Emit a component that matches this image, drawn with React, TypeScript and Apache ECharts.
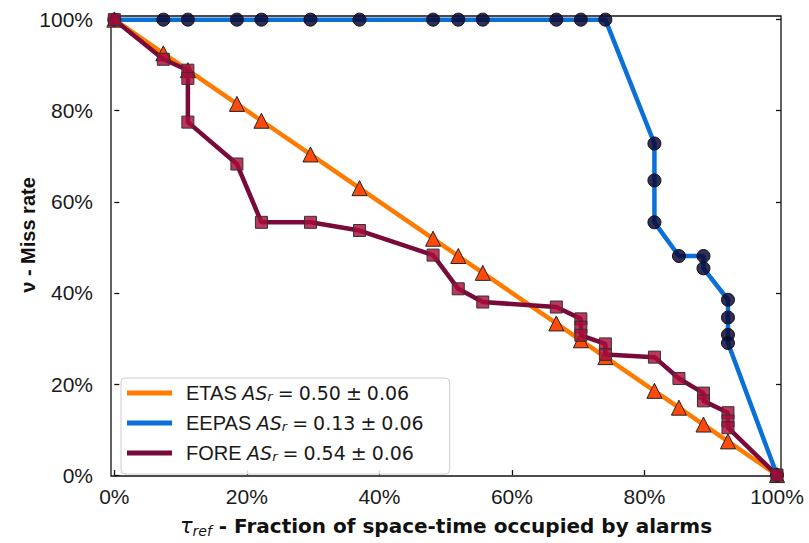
import React, { useEffect, useRef } from "react";
import * as echarts from "echarts";

// x positions: fraction of space-time occupied by alarms
const etasX = [0, 0.074, 0.111, 0.185, 0.222, 0.296, 0.370, 0.481, 0.519, 0.556, 0.667, 0.704, 0.741, 0.815, 0.852, 0.889, 0.926, 1.0];
const etasY = [1.0, 0.926, 0.889, 0.815, 0.778, 0.704, 0.630, 0.519, 0.481, 0.444, 0.333, 0.296, 0.259, 0.185, 0.148, 0.111, 0.074, 0.0];

const eepasX = [0, 0.074, 0.111, 0.185, 0.222, 0.296, 0.370, 0.481, 0.519, 0.556, 0.667, 0.704, 0.741, 0.815, 0.815, 0.815, 0.852, 0.889, 0.889, 0.926, 0.926, 0.926, 0.926, 1.0];
const eepasY = [1.0, 1.0, 1.0, 1.0, 1.0, 1.0, 1.0, 1.0, 1.0, 1.0, 1.0, 1.0, 1.0, 0.728, 0.647, 0.555, 0.481, 0.481, 0.454, 0.385, 0.346, 0.308, 0.290, 0.0];

const foreX = [0, 0.074, 0.111, 0.111, 0.111, 0.185, 0.222, 0.296, 0.370, 0.481, 0.519, 0.556, 0.667, 0.704, 0.704, 0.704, 0.741, 0.741, 0.815, 0.852, 0.889, 0.889, 0.926, 0.926, 0.926, 1.0];
const foreY = [1.0, 0.913, 0.889, 0.871, 0.775, 0.683, 0.555, 0.555, 0.537, 0.483, 0.409, 0.380, 0.369, 0.343, 0.325, 0.307, 0.288, 0.265, 0.259, 0.212, 0.180, 0.163, 0.137, 0.119, 0.104, 0.0];

const tickValues = [0, 0.2, 0.4, 0.6, 0.8, 1.0];

const seriesNames = ["ETAS", "EEPAS", "FORE"];
const seriesScores = ["0.50", "0.13", "0.54"];
const seriesErrors = ["0.06", "0.06", "0.06"];

const lineColors = ["#ff7a00", "#0a6fd6", "#7a0a3a"];

const FONT = "Liberation Sans, Arial, sans-serif";
const DJ = "DejaVu Sans, sans-serif";

const pairs = (xs: number[], ys: number[]) => xs.map((x, i) => [x, ys[i]]);

export default function App() {
  const ref = useRef<HTMLDivElement>(null);
  useEffect(() => {
    if (!ref.current) return;
    const chart = echarts.init(ref.current, null, { renderer: "svg" });
    const pct = (v: number) => `${Math.round(v * 100)}%`;
    const txt = "#1a1a1a";
    const option: any = {
      animation: false,
      backgroundColor: "#ffffff",
      grid: {
        left: 111,
        right: 28,
        top: 16,
        bottom: 61,
        show: true,
        borderColor: "#111",
        borderWidth: 1.3,
        backgroundColor: "transparent",
      },
      xAxis: {
        type: "value",
        min: -0.005,
        max: 1.006,
        axisLine: { show: false },
        splitLine: { show: false },
        axisTick: { show: true, inside: true, length: 5, lineStyle: { color: "#111", width: 1.3 }, customValues: tickValues },
        axisLabel: {
          customValues: tickValues,
          formatter: pct,
          fontFamily: FONT,
          fontSize: 21,
          color: txt,
          margin: 10,
        },
        name: "{t|τ}{s|ref}{b| - Fraction of space-time occupied by alarms}",
        nameLocation: "middle",
        nameGap: 38,
        nameTextStyle: {
          rich: {
            t: { fontFamily: DJ, fontStyle: "italic", fontSize: 21, color: "#111", lineHeight: 24 },
            s: { fontFamily: DJ, fontStyle: "italic", fontSize: 14, color: "#111", lineHeight: 12, verticalAlign: "bottom" },
            b: { fontFamily: DJ, fontWeight: "bold", fontSize: 20, color: "#111", lineHeight: 24 },
          },
        },
      },
      yAxis: [
        {
          type: "value",
          min: -0.002,
          max: 1.008,
          axisLine: { show: false },
          splitLine: { show: false },
          axisTick: { show: true, inside: true, length: 5, lineStyle: { color: "#111", width: 1.3 }, customValues: tickValues },
          axisLabel: {
            customValues: tickValues,
            formatter: pct,
            fontFamily: FONT,
            fontSize: 21,
            color: txt,
            margin: 18,
          },
        },
        {
          type: "value",
          position: "right",
          min: -0.002,
          max: 1.008,
          axisLine: { show: false },
          splitLine: { show: false },
          axisTick: { show: true, inside: true, length: 5, lineStyle: { color: "#111", width: 1.3 }, customValues: tickValues },
          axisLabel: { show: false },
        },
      ],
      legend: {
        orient: "vertical",
        left: 121,
        top: 378,
        padding: [5, 26, 11, 6],
        itemGap: 10,
        itemWidth: 45,
        itemHeight: 5,
        icon: "rect",
        backgroundColor: "rgba(255,255,255,0.85)",
        borderColor: "#cccccc",
        borderWidth: 1,
        borderRadius: 4,
        data: seriesNames.map((n, i) => ({
          name: n,
          itemStyle: { color: lineColors[i], borderWidth: 0 },
        })),
        formatter: (name: string) => {
          const i = seriesNames.indexOf(name);
          return `{a|${name} }{i|AS}{s|r}{o|=}{b|${seriesScores[i]}}{o|±}{b|${seriesErrors[i]}}`;
        },
        textStyle: {
          rich: {
            a: { fontFamily: FONT, fontSize: 20, color: txt, lineHeight: 20, padding: [0, 0, 0, 9] },
            i: { fontFamily: DJ, fontStyle: "italic", fontSize: 19, color: txt, lineHeight: 20 },
            s: { fontFamily: DJ, fontStyle: "italic", fontSize: 13, color: txt, lineHeight: 10, verticalAlign: "bottom" },
            o: { fontFamily: DJ, fontSize: 19, color: txt, lineHeight: 20, padding: [0, 5, 0, 5] },
            b: { fontFamily: DJ, fontSize: 19, color: txt, lineHeight: 20 },
          },
        },
      },
      graphic: [
        {
          type: "text",
          x: 28,
          y: 235,
          rotation: Math.PI / 2,
          style: {
            text: "ν - Miss rate",
            fontFamily: FONT,
            fontWeight: "bold",
            fontSize: 20,
            fill: "#111",
            align: "center",
            verticalAlign: "middle",
          },
        },
      ],
      series: [
        {
          name: "ETAS",
          type: "line",
          data: pairs(etasX, etasY),
          showAllSymbol: true,
          symbol: "triangle",
          symbolSize: 15,
          lineStyle: { color: lineColors[0], width: 4.5 },
          itemStyle: { color: "#ff4a0a", borderColor: "#222", borderWidth: 1 },
          z: 2,
        },
        {
          name: "EEPAS",
          type: "line",
          data: pairs(eepasX, eepasY),
          showAllSymbol: true,
          symbol: "circle",
          symbolSize: 13,
          lineStyle: { color: lineColors[1], width: 4.5 },
          itemStyle: { color: "rgba(10,12,58,0.85)", borderColor: "#111", borderWidth: 1 },
          z: 3,
        },
        {
          name: "FORE",
          type: "line",
          data: pairs(foreX, foreY),
          showAllSymbol: true,
          symbol: "rect",
          symbolSize: 12,
          lineStyle: { color: lineColors[2], width: 4.5 },
          itemStyle: { color: "rgba(170,14,58,0.82)", borderColor: "#333", borderWidth: 1 },
          z: 4,
        },
      ],
    };
    chart.setOption(option);
    return () => chart.dispose();
  }, []);
  return <div ref={ref} style={{ width: 809, height: 543, position: "absolute", left: 0, top: 0 }} />;
}
